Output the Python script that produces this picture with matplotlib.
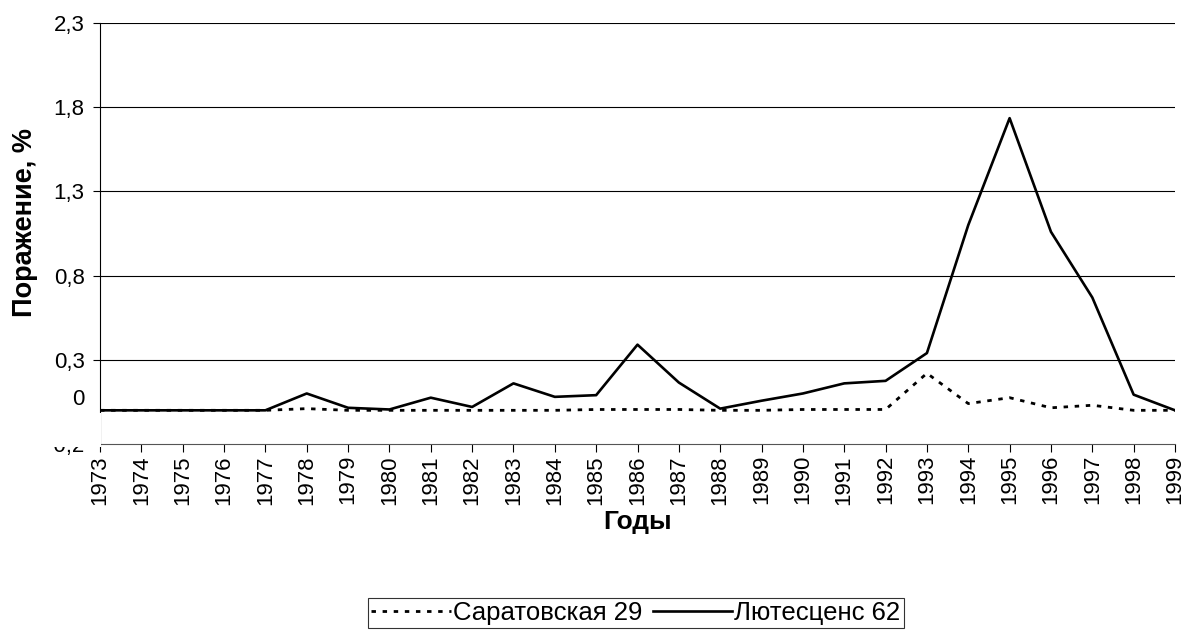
import numpy as np
import matplotlib
matplotlib.use("Agg")
import matplotlib.pyplot as plt
from matplotlib.patches import Rectangle

plt.rcParams['font.family'] = ['Liberation Sans', 'DejaVu Sans']

years = list(range(1973, 2000))
saratov = [0, 0, 0, 0, 0, 0.01, 0, 0, 0, 0, 0, 0, 0.005, 0.005, 0.005, 0, 0,
           0.005, 0.005, 0.005, 0.22, 0.04, 0.075, 0.015, 0.03, 0.0, 0.0]
lutesc = [0, 0, 0, 0, 0, 0.1, 0.015, 0.005, 0.075, 0.02, 0.16, 0.08, 0.09,
          0.39, 0.165, 0.01, 0.057, 0.10, 0.16, 0.175, 0.34, 1.10, 1.735,
          1.06, 0.67, 0.093, 0.0]
yticks = [-0.2, 0.3, 0.8, 1.3, 1.8, 2.3]
ytick_labels = ['-0,2', '0,3', '0,8', '1,3', '1,8', '2,3']

fig = plt.figure(figsize=(11.86, 6.39), dpi=100)
ax = fig.add_axes([100 / 1186, 1 - 444 / 639, 1075 / 1186, 421 / 639])

ax.plot(years, saratov, color='black', lw=2, linestyle=(0, (1.6, 2.4)),
        dash_capstyle='butt', label='Саратовская 29', zorder=3)
ax.plot(years, lutesc, color='black', lw=1.9, label='Лютесценс 62', zorder=3)

ax.set_xlim(1973, 1999)
ax.set_ylim(-0.2, 2.3)
ax.set_xticks(years)
ax.set_xticklabels([str(y) for y in years], rotation=90, fontsize=16)
ax.set_yticks(yticks)
ax.set_yticklabels(ytick_labels, fontsize=16)
ax.tick_params(axis='x', direction='out', length=6, width=0.8, pad=2)
ax.tick_params(axis='y', direction='out', length=5, width=0.8, pad=6)

for y in yticks[1:]:
    ax.axhline(y, color='black', lw=0.8, zorder=1)

ax.spines['top'].set_visible(False)
ax.spines['right'].set_visible(False)
ax.spines['left'].set_linewidth(0.8)
ax.spines['bottom'].set_linewidth(0.8)
ax.spines['bottom'].set_color('#555555')

# zero label placed slightly above the zero level
ax.annotate('0', xy=(0, 0), xycoords=ax.get_yaxis_transform(),
            xytext=(-11, 4), textcoords='offset points',
            ha='right', va='baseline', fontsize=16)

# white band hiding the gap between zero and the category axis
fig.patches.append(Rectangle((0, 1 - 447 / 639), 100.5 / 1186, 34 / 639,
                             transform=fig.transFigure, facecolor='white',
                             edgecolor='none', zorder=5))

fig.text(25 / 1186, 1 - 223 / 639, 'Поражение, %', rotation=90,
         ha='center', va='center', fontsize=19.5, fontweight='bold')
fig.text(638 / 1186, 1 - 522 / 639, 'Годы', ha='center', va='center',
         fontsize=19, fontweight='bold')

leg = fig.legend(loc='center', bbox_to_anchor=(636 / 1186, 1 - 613 / 639),
                 ncol=2, fontsize=18.5, frameon=True, fancybox=False,
                 handlelength=3.1, handletextpad=0.08, columnspacing=0.4,
                 borderpad=0.12, borderaxespad=0)
leg.get_frame().set_edgecolor('black')
leg.get_frame().set_linewidth(0.8)

fig.savefig('out.png', dpi=100, facecolor='white')
